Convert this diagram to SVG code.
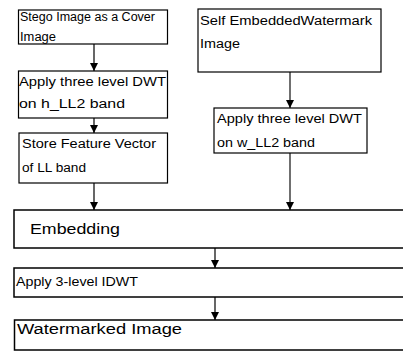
<svg xmlns="http://www.w3.org/2000/svg" width="403" height="351" viewBox="0 0 403 351">
  <defs>
    <marker id="arrow" viewBox="0 0 10 10" refX="10" refY="5" markerWidth="8" markerHeight="8" markerUnits="userSpaceOnUse" orient="auto">
      <path d="M0,0 L10,5 L0,10 Z" fill="#000"/>
    </marker>
    <style>
      .box { fill: #fff; stroke: #000; stroke-width: 1.2; }
      .wide { fill: #fff; stroke: #000; stroke-width: 1.5; }
      .lbl { font-family: "Liberation Sans", Arial, sans-serif; font-size: 12px; fill: #000; }
      .big { font-family: "Liberation Sans", Arial, sans-serif; font-size: 14px; fill: #000; }
      .edge { stroke: #000; stroke-width: 1.2; fill: none; marker-end: url(#arrow); }
      .edge-gray { stroke: #333; stroke-width: 1.4; fill: none; marker-end: url(#arrow); }
    </style>
  </defs>
  <rect width="403" height="351" fill="#fff"/>

  <!-- connectors -->
  <g id="connectors">
    <line class="edge" x1="94" y1="44" x2="94" y2="71"/>
    <line class="edge" x1="94" y1="118" x2="94" y2="133"/>
    <line class="edge" x1="94" y1="183" x2="94" y2="210"/>
    <line class="edge-gray" x1="290" y1="72" x2="290" y2="108"/>
    <line class="edge-gray" x1="290" y1="153" x2="290" y2="210"/>
    <line class="edge" x1="215" y1="248" x2="215" y2="268"/>
    <line class="edge" x1="215" y1="297" x2="215" y2="320"/>
  </g>

  <!-- left column -->
  <g id="stego-cover">
    <rect class="box" x="18.5" y="10" width="149" height="34"/>
    <text class="lbl" x="20" y="21" textLength="135" lengthAdjust="spacingAndGlyphs">Stego Image as a Cover</text>
    <text class="lbl" x="20" y="41" textLength="36" lengthAdjust="spacingAndGlyphs">Image</text>
  </g>
  <g id="dwt-h">
    <rect class="box" x="18.5" y="71" width="149" height="47"/>
    <text class="lbl" x="19" y="86" textLength="147" lengthAdjust="spacingAndGlyphs">Apply three level DWT</text>
    <text class="lbl" x="19" y="108" textLength="106" lengthAdjust="spacingAndGlyphs">on h_LL2 band</text>
  </g>
  <g id="feature-vector">
    <rect class="box" x="19" y="133" width="148.5" height="50"/>
    <text class="lbl" x="22" y="148" textLength="134" lengthAdjust="spacingAndGlyphs">Store Feature Vector</text>
    <text class="lbl" x="22" y="172" textLength="64" lengthAdjust="spacingAndGlyphs">of LL band</text>
  </g>

  <!-- right column -->
  <g id="watermark-image">
    <rect class="box" x="198" y="9" width="183" height="63"/>
    <text class="lbl" x="200" y="25" textLength="172" lengthAdjust="spacingAndGlyphs">Self EmbeddedWatermark</text>
    <text class="lbl" x="200" y="48" textLength="40" lengthAdjust="spacingAndGlyphs">Image</text>
  </g>
  <g id="dwt-w">
    <rect class="box" x="214" y="108" width="153" height="45"/>
    <text class="lbl" x="217" y="123" textLength="145" lengthAdjust="spacingAndGlyphs">Apply three level DWT</text>
    <text class="lbl" x="217" y="147" textLength="98" lengthAdjust="spacingAndGlyphs">on w_LL2 band</text>
  </g>

  <!-- full-width stages -->
  <g id="embedding">
    <rect class="wide" x="14" y="210" width="400" height="38"/>
    <text class="big" x="30" y="234" textLength="90" lengthAdjust="spacingAndGlyphs">Embedding</text>
  </g>
  <g id="idwt">
    <rect class="wide" x="14" y="268" width="400" height="29"/>
    <text class="lbl" x="16" y="286" textLength="122" lengthAdjust="spacingAndGlyphs">Apply 3-level IDWT</text>
  </g>
  <g id="watermarked">
    <rect class="wide" x="14.5" y="320" width="400" height="30"/>
    <text class="big" x="17" y="334" textLength="165" lengthAdjust="spacingAndGlyphs">Watermarked Image</text>
  </g>
</svg>
